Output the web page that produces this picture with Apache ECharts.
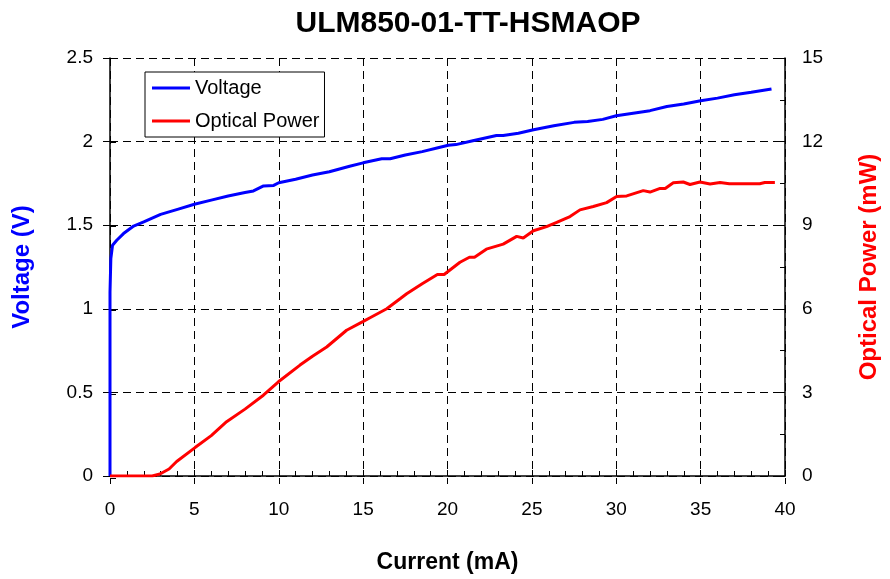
<!DOCTYPE html>
<html><head><meta charset="utf-8">
<script src="https://cdn.jsdelivr.net/npm/echarts@6/dist/echarts.min.js"></script>
<style>html,body{margin:0;padding:0;background:#fff}#c{width:890px;height:579px}</style>
</head><body><div id="c"></div>
<script>
var titleText = "ULM850-01-TT-HSMAOP";
var voltageI = [0,0,0.05,0.15,0.4,0.8,1.4,2.0,3.0,4.0,5.0,6.0,7.0,8.0,8.5,9.1,9.7,10.0,11,12,13,14.2,15.0,16.1,16.6,17.5,18.5,19.5,20.05,20.5,21.5,22.9,23.3,24.2,25.1,26.3,27.5,28.3,29.2,30.0,31,32,33,34,35,36,37,38,39.2];
var voltageV = [0,1.1,1.3,1.38,1.41,1.45,1.495,1.52,1.565,1.595,1.625,1.65,1.675,1.695,1.705,1.735,1.738,1.754,1.775,1.80,1.82,1.853,1.873,1.897,1.897,1.92,1.94,1.965,1.978,1.982,2.005,2.036,2.036,2.05,2.071,2.095,2.115,2.12,2.133,2.155,2.17,2.185,2.21,2.225,2.244,2.26,2.28,2.295,2.315];
var powerI = [0,2.5,2.96,3.5,3.95,5.04,6.0,6.91,8.0,9.09,9.98,11.26,12.0,12.84,14.02,15.01,15.41,16.4,17.19,17.58,18.5,19.4,19.8,20.74,21.3,21.6,22.3,23.3,24.1,24.49,25.09,25.87,26.47,27.26,27.85,28.64,29.43,30.02,30.62,31.6,32.0,32.6,32.9,33.38,33.97,34.37,34.96,35.56,36.15,36.7,38.5,38.8,39.4];
var powerP = [0,0,0.07,0.25,0.52,1.02,1.45,1.95,2.4,2.9,3.38,3.98,4.3,4.63,5.23,5.55,5.68,6.0,6.36,6.54,6.9,7.23,7.23,7.67,7.85,7.85,8.14,8.32,8.6,8.54,8.8,8.95,9.1,9.31,9.55,9.67,9.81,10.03,10.05,10.24,10.19,10.32,10.32,10.52,10.55,10.46,10.55,10.48,10.53,10.49,10.49,10.53,10.53];

function pairs(a,b){return a.map(function(v,i){return [v,b[i]];});}
var F = "'Liberation Sans', Arial, sans-serif";
var dashed = {show:true,lineStyle:{color:'#000',type:[8,5],width:1}};
var tk = {color:'#000',width:1};
var G = {left:110,right:105,top:58,bottom:101};
var chart = echarts.init(document.getElementById('c'));
chart.setOption({
  animation:false,
  backgroundColor:'#fff',
  title:{text:titleText,left:463,textAlign:'center',top:4,textStyle:{fontFamily:F,fontWeight:'bold',fontSize:30,color:'#000'}},
  legend:{orient:'vertical',left:145,top:72,backgroundColor:'#fff',borderColor:'#000',borderWidth:1,borderRadius:0,
    padding:[6,5,6,7],itemWidth:38,itemHeight:3,itemGap:13,icon:'rect',
    textStyle:{fontFamily:F,fontSize:20,color:'#000'},data:['Voltage','Optical Power']},
  grid:[G, G],
  xAxis:[{type:'value',gridIndex:0,min:0,max:40,interval:5,position:'bottom',
    name:'Current (mA)',nameLocation:'middle',nameGap:75,
    nameTextStyle:{fontFamily:F,fontWeight:'bold',fontSize:23,color:'#000'},
    axisLine:{lineStyle:{color:'#000',width:1.5}},
    axisTick:{show:true,inside:true,length:6,lineStyle:tk},
    minorTick:{show:true,splitNumber:5,length:5,lineStyle:tk},
    axisLabel:{fontFamily:F,fontSize:19,color:'#000',margin:24},
    splitLine:dashed},
   {type:'value',gridIndex:1,min:0,max:40,interval:5,position:'bottom',
    axisLine:{show:false},axisTick:{show:true,length:6,lineStyle:tk},
    axisLabel:{show:false},splitLine:{show:false}}],
  yAxis:[{type:'value',gridIndex:0,min:0,max:2.5,interval:0.5,position:'left',
    name:'Voltage (V)',nameLocation:'middle',nameGap:76,nameRotate:90,
    nameTextStyle:{fontFamily:F,fontWeight:'bold',fontSize:24,color:'#0000ff'},
    axisLine:{show:true,lineStyle:{color:'#000',width:1.5}},
    axisTick:{show:true,length:7,lineStyle:tk},
    axisLabel:{fontFamily:F,fontSize:19,color:'#000',margin:17},
    splitLine:dashed},
   {type:'value',gridIndex:0,min:0,max:15,interval:3,position:'right',
    name:'Optical Power (mW)',nameLocation:'middle',nameGap:72,nameRotate:90,
    nameTextStyle:{fontFamily:F,fontWeight:'bold',fontSize:24,color:'#ff0000'},
    axisLine:{show:true,lineStyle:{color:'#000',width:1.5}},
    axisTick:{show:true,inside:true,length:6,lineStyle:tk},
    minorTick:{show:true,splitNumber:2,length:5,lineStyle:tk},
    axisLabel:{fontFamily:F,fontSize:19,color:'#000',margin:17},
    splitLine:{show:false}},
   {type:'value',gridIndex:1,min:0,max:15,interval:3,position:'right',
    axisLine:{show:false},axisTick:{show:true,length:6,lineStyle:tk},
    axisLabel:{show:false},splitLine:{show:false}}],
  series:[
    {name:'Voltage',type:'line',xAxisIndex:0,yAxisIndex:0,showSymbol:false,data:pairs(voltageI,voltageV),
     lineStyle:{color:'#0000ff',width:3},itemStyle:{color:'#0000ff'}},
    {name:'Optical Power',type:'line',xAxisIndex:0,yAxisIndex:1,showSymbol:false,data:pairs(powerI,powerP),
     lineStyle:{color:'#ff0000',width:3},itemStyle:{color:'#ff0000'}}
  ]
});
</script></body></html>
